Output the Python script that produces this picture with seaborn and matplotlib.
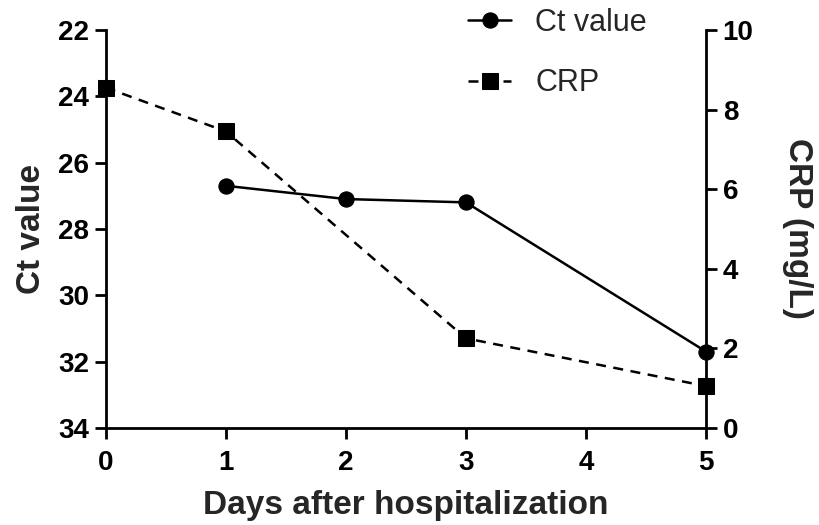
# Ct value and CRP over the days after hospitalization
import pandas as pd
import seaborn as sns
from matplotlib import pyplot as plt

# Data
ct_days = [1, 2, 3, 5]
ct_values = [26.7, 27.1, 27.2, 31.7]
crp_days = [0, 1, 3, 5]
crp_values = [8.55, 7.45, 2.25, 1.05]
x_ticks = [0, 1, 2, 3, 4, 5]
ct_ticks = [22, 24, 26, 28, 30, 32, 34]
crp_ticks = [0, 2, 4, 6, 8, 10]

ct_df = pd.DataFrame({"day": ct_days, "ct": ct_values})
crp_df = pd.DataFrame({"day": crp_days, "crp": crp_values})

sns.set_theme(style="ticks")
plt.rcParams["font.family"] = ["Liberation Sans", "DejaVu Sans"]

fig = plt.figure(figsize=(8.2, 5.25), dpi=100)
ax = fig.add_axes([0.129, 0.185, 0.732, 0.758])
ax2 = ax.twinx()

# Ct value on the left (inverted) axis
sns.lineplot(x="day", y="ct", data=ct_df, ax=ax, color="black", linewidth=1.8,
             marker="o", markersize=11, markeredgecolor="black", label="Ct value",
             legend=False, clip_on=False, zorder=5)
# CRP on the right axis
sns.lineplot(x="day", y="crp", data=crp_df, ax=ax2, color="black", linewidth=1.8,
             linestyle=(0, (4, 3)), marker="s", markersize=11, markeredgecolor="black",
             label="CRP", legend=False, clip_on=False, zorder=5)

ax.set_xlim(0, 5)
ax.set_ylim(34, 22)
ax2.set_ylim(0, 10)
ax.set_xticks(x_ticks)
ax.set_yticks(ct_ticks)
ax2.set_yticks(crp_ticks)

ax.set_xlabel("Days after hospitalization", fontsize=24, fontweight="bold", labelpad=10)
ax.set_ylabel("Ct value", fontsize=24, fontweight="bold", labelpad=8)
ax2.set_ylabel("CRP (mg/L)", fontsize=24, fontweight="bold", rotation=270, labelpad=43)

for a in (ax, ax2):
    a.spines["top"].set_visible(False)
    for s in ("left", "bottom", "right"):
        a.spines[s].set_linewidth(2)
        a.spines[s].set_color("black")
    a.tick_params(width=2, length=8, labelsize=20, colors="black", pad=4)
    for lbl in a.get_xticklabels() + a.get_yticklabels():
        lbl.set_fontweight("bold")
ax.tick_params(axis="x", pad=8)
ax.spines["right"].set_visible(False)
ax2.spines["left"].set_visible(False)
ax2.spines["bottom"].set_visible(False)

handles = ax.get_lines()[:1] + ax2.get_lines()[:1]
fig.legend(handles, ["Ct value", "CRP"], loc="upper left", bbox_to_anchor=(0.571, 0.985),
           frameon=False, fontsize=22, handlelength=1.4, labelspacing=1.0,
           handletextpad=0.8, borderpad=0, borderaxespad=0)

fig.savefig("out.png", dpi=100)
